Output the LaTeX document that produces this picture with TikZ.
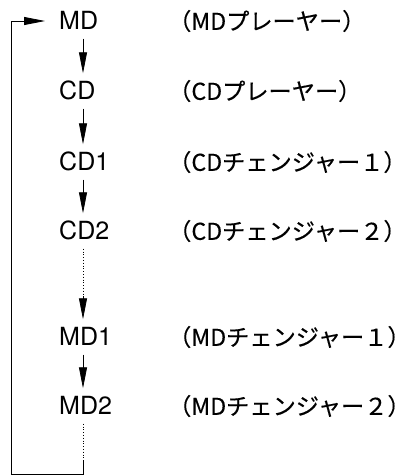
\documentclass[tikz,border=0pt]{standalone}
\usepackage{fontspec}
\setmainfont{TeX Gyre Heros}
\newfontfamily\jpfont[FakeBold=0.3]{Noto Sans CJK JP}
\usetikzlibrary{arrows.meta, positioning}

\begin{document}
\begin{tikzpicture}[x=1pt, y=-1pt,
    unit/.style={anchor=west, inner xsep=0pt, inner ysep=9pt,
                 text height=17pt, text depth=0pt,
                 font=\fontsize{25}{25}\selectfont},
    jplabel/.style={anchor=west, inner sep=0pt,
                 font=\jpfont\fontsize{23.2}{23.2}\selectfont},
    flow/.style={line width=0.8pt, -{Triangle[length=21pt, width=8pt]}},
    wire/.style={line width=0.8pt},
    dotwire/.style={line width=0.8pt, dotted}]
    \useasboundingbox (0,0) rectangle (415,475);

    % Source units, top to bottom
    \node[unit] (md)  at (59, 21)  {MD};
    \node[unit] (cd)  at (59, 91)  {CD};
    \node[unit] (cd1) at (59, 162) {CD1};
    \node[unit] (cd2) at (59, 231) {CD2};
    \node[unit] (md1) at (59, 337) {MD1};
    \node[unit] (md2) at (59, 406) {MD2};

    % Japanese names
    \node[jplabel] (mdname)  at (168, 21)  {（MDプレーヤー）};
    \node[jplabel] (cdname)  at (168, 91)  {（CDプレーヤー）};
    \node[jplabel] (cd1name) at (168, 162) {（CDチェンジャー１）};
    \node[jplabel] (cd2name) at (168, 231) {（CDチェンジャー２）};
    \node[jplabel] (md1name) at (168, 337) {（MDチェンジャー１）};
    \node[jplabel] (md2name) at (168, 406) {（MDチェンジャー２）};

    % Arrow column and loop corners
    \coordinate (col)  at (83, 0);
    \coordinate (gap)  at (83, 297);
    \coordinate (tail) at (83, 460);
    \coordinate (bot)  at (83, 474);
    \coordinate (botl) at (11, 474);

    \draw[flow] (md.south -| col)  -- (cd.north -| col);
    \draw[flow] (cd.south -| col)  -- (cd1.north -| col);
    \draw[flow] (cd1.south -| col) -- (cd2.north -| col);
    \draw[dotwire] (cd2.south -| col) -- (gap);
    \draw[flow] (gap) -- (md1.north -| col);
    \draw[flow] (md1.south -| col) -- (md2.north -| col);

    % Back to the top
    \draw[dotwire] (md2.south -| col) -- (tail);
    \draw[flow, shorten >=14pt] (tail) -- (bot) -- (botl) |- (md.west);
\end{tikzpicture}
\end{document}
